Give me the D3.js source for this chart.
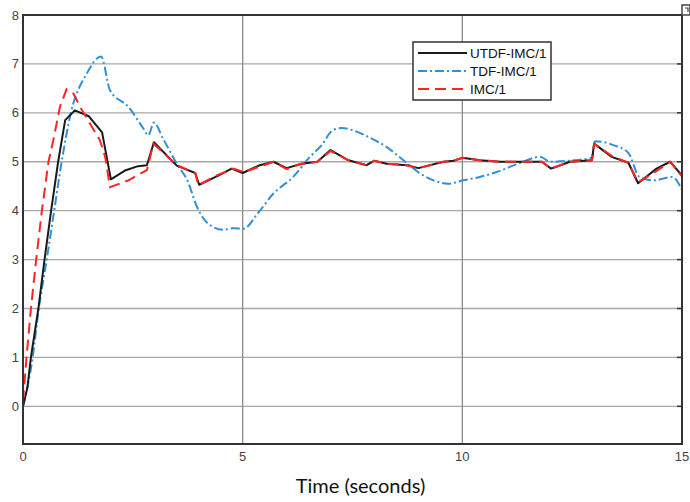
<!DOCTYPE html>
<html><head><meta charset="utf-8">
<script src="https://cdn.jsdelivr.net/npm/d3@7"></script>
<style>body{margin:0;background:#fff}svg{display:block}</style>
</head><body>
<svg id="c" width="690" height="502"></svg>
<script>
const seriesNames = ["UTDF-IMC/1", "TDF-IMC/1", "IMC/1"];
const xTicks = [0, 5, 10, 15];
const yTicks = [0, 1, 2, 3, 4, 5, 6, 7, 8];
const xLabel = "Time (seconds)";

const utdfT = [0,0.1,0.18,0.35,0.49,0.64,0.8,0.96,1.18,1.5,1.8,2.0,2.32,2.62,2.82,2.98,3.5,3.92,4.01,4.41,4.75,5.0,5.39,5.7,6.0,6.34,6.7,7.0,7.41,7.82,7.99,8.28,8.73,9.0,9.57,9.8,10.0,10.4,10.86,11.31,11.81,12.02,12.45,12.95,13.0,13.4,13.78,14.0,14.42,14.73,15];
const utdfV = [0,0.38,1,2,3,4,5,5.85,6.05,5.93,5.6,4.64,4.82,4.91,4.93,5.4,4.92,4.77,4.53,4.7,4.86,4.77,4.93,5.0,4.87,4.96,5.0,5.24,5.03,4.93,5.02,4.96,4.93,4.87,5.0,5.02,5.08,5.03,5.0,5.0,5.0,4.86,5.0,5.03,5.37,5.1,4.98,4.56,4.86,5.0,4.72];

const tdfT = [0,0.22,0.36,0.54,0.71,0.88,1.09,1.45,1.78,1.98,2.4,2.74,2.85,2.98,3.19,3.5,3.75,3.95,4.1,4.3,4.56,4.79,5.02,5.34,5.7,6.15,6.53,6.8,7.03,7.25,7.52,7.9,8.28,8.66,9.04,9.34,9.68,10.02,10.4,10.78,11.27,11.77,12.0,12.53,12.95,13.02,13.44,13.78,14.03,14.35,14.78,15];
const tdfV = [0,1,2,3,4,5,6,6.8,7.15,6.46,6.12,5.68,5.54,5.8,5.47,4.96,4.6,4.1,3.85,3.68,3.61,3.64,3.63,3.94,4.35,4.69,5.1,5.34,5.63,5.69,5.64,5.49,5.3,5.03,4.76,4.62,4.55,4.62,4.69,4.79,4.96,5.1,5.0,5.03,5.08,5.42,5.34,5.18,4.69,4.62,4.69,4.42];

const imcT = [0,0.08,0.18,0.3,0.43,0.58,0.69,0.84,0.99,1.15,1.3,1.75,1.87,1.98,2.4,2.82,2.97,3.5,3.92,3.99,4.41,4.79,5.02,5.39,5.7,6.0,6.34,6.7,7.0,7.41,7.82,7.99,8.28,8.73,9.0,9.57,9.8,10.0,10.4,10.86,11.31,11.81,12.02,12.45,12.95,13.0,13.4,13.78,14.0,14.4,14.73,15];
const imcV = [0.1,1,2,3,4,5,5.44,6.12,6.48,6.39,6.12,5.44,5.1,4.48,4.62,4.83,5.37,4.93,4.77,4.52,4.72,4.86,4.79,4.9,5.0,4.85,4.96,5.0,5.22,5.03,4.93,5.02,4.96,4.93,4.87,5.0,5.02,5.08,5.03,5.0,5.0,5.0,4.86,5.0,5.03,5.37,5.12,4.98,4.58,4.8,5.0,4.7];

const svg = d3.select("#c");
const L = 23, R = 682, T = 15, B = 444;
const x = d3.scaleLinear().domain([0, 15]).range([L, R]);
const y = d3.scaleLinear().domain([-0.77, 8]).range([B, T]);

// grid
const g = svg.append("g");
g.selectAll("line.hy").data(yTicks).enter().append("line")
  .attr("x1", L).attr("x2", R).attr("y1", d => y(d)).attr("y2", d => y(d))
  .attr("stroke", "#a8a8a8").attr("stroke-width", 1.3);
g.selectAll("line.vx").data(xTicks.filter(d => d > 0 && d < 15)).enter().append("line")
  .attr("x1", d => x(d)).attr("x2", d => x(d)).attr("y1", T).attr("y2", B)
  .attr("stroke", "#8a8a8a").attr("stroke-width", 1.3);

// right-side ticks
g.selectAll("line.rt").data(yTicks).enter().append("line")
  .attr("x1", R - 5).attr("x2", R).attr("y1", d => y(d)).attr("y2", d => y(d))
  .attr("stroke", "#333").attr("stroke-width", 1.5);

// series
const mk = (ts, vs) => ts.map((t, i) => [t, vs[i]]);
const line = d3.line().x(d => x(d[0])).y(d => y(d[1]));
const lineSmooth = d3.line().x(d => x(d[0])).y(d => y(d[1])).curve(d3.curveMonotoneX);

svg.append("clipPath").attr("id", "pc").append("rect")
  .attr("x", L).attr("y", T).attr("width", R - L).attr("height", B - T);
const pl = svg.append("g").attr("clip-path", "url(#pc)");

pl.append("path").attr("d", lineSmooth(mk(tdfT, tdfV)))
  .attr("fill", "none").attr("stroke", "#2f90d6").attr("stroke-width", 2)
  .attr("stroke-dasharray", "9,3,2,3");
pl.append("path").attr("d", line(mk(utdfT, utdfV)))
  .attr("fill", "none").attr("stroke", "#1a1a1a").attr("stroke-width", 2)
  .attr("stroke-linejoin", "round");
pl.append("path").attr("d", line(mk(imcT, imcV)))
  .attr("fill", "none").attr("stroke", "#ff2424").attr("stroke-width", 2)
  .attr("stroke-dasharray", "11,6");

// frame
svg.append("rect").attr("x", L).attr("y", T).attr("width", R - L).attr("height", B - T)
  .attr("fill", "none").attr("stroke", "#333").attr("stroke-width", 2);

// small icon top-right
svg.append("rect").attr("x", 682).attr("y", 5).attr("width", 8).attr("height", 10)
  .attr("fill", "#fff").attr("stroke", "#444").attr("stroke-width", 1.5);
svg.append("path").attr("d", "M685,8 h3 v4").attr("fill", "none").attr("stroke", "#444").attr("stroke-width", 1.2);

// tick labels
const tf = "'Liberation Sans', Arial, sans-serif";
svg.selectAll("text.yl").data(yTicks).enter().append("text")
  .attr("x", 19).attr("y", d => y(d) + 4.5).attr("text-anchor", "end")
  .attr("font-family", tf).attr("font-size", 13).attr("fill", "#444")
  .text(d => d);
svg.selectAll("text.xl").data(xTicks).enter().append("text")
  .attr("x", d => x(d)).attr("y", 461).attr("text-anchor", "middle")
  .attr("font-family", tf).attr("font-size", 13).attr("fill", "#444")
  .text(d => d);

svg.append("text").attr("x", 360.5).attr("y", 493).attr("text-anchor", "middle")
  .attr("font-family", "Lato, 'Open Sans', sans-serif").attr("font-size", 20).attr("fill", "#111")
  .text(xLabel);

// legend
const lg = svg.append("g");
lg.append("rect").attr("x", 413).attr("y", 42).attr("width", 138).attr("height", 58)
  .attr("fill", "#fff").attr("stroke", "#333").attr("stroke-width", 1.5);
const styles = [
  {c: "#1a1a1a", d: null},
  {c: "#2f90d6", d: "9,3,2,3"},
  {c: "#ff2424", d: "11,6"}
];
seriesNames.forEach((n, i) => {
  const yy = 53 + i * 18;
  lg.append("line").attr("x1", 418).attr("x2", 467).attr("y1", yy).attr("y2", yy)
    .attr("stroke", styles[i].c).attr("stroke-width", 2)
    .attr("stroke-dasharray", styles[i].d);
  lg.append("text").attr("x", 470).attr("y", yy + 5)
    .attr("font-family", tf).attr("font-size", 13.5).attr("fill", "#111").text(n);
});
</script>
</body></html>
